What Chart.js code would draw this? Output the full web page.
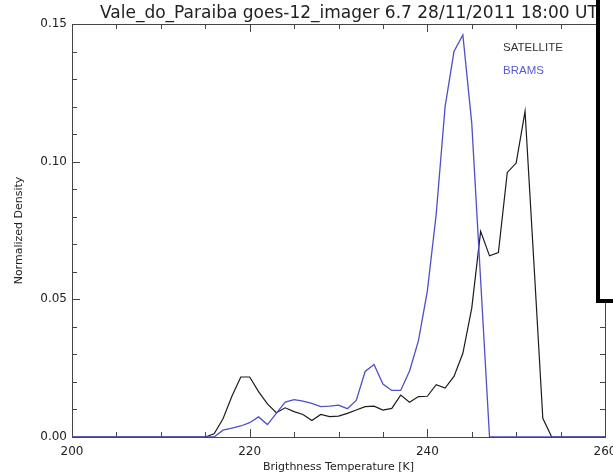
<!DOCTYPE html>
<html>
<head>
<meta charset="utf-8">
<script src="https://cdn.jsdelivr.net/npm/chart.js@4.4.1/dist/chart.umd.min.js"></script>
<style>
  html, body { margin: 0; padding: 0; background: #fff; }
  canvas { display: block; }
</style>
</head>
<body>
<canvas id="histo" width="613" height="476"></canvas>
<script>
'use strict';

// brightness temperature bins (K)
var temps = [200, 201, 202, 203, 204, 205, 206, 207, 208, 209,
             210, 211, 212, 213, 214, 215, 216, 217, 218, 219,
             220, 221, 222, 223, 224, 225, 226, 227, 228, 229,
             230, 231, 232, 233, 234, 235, 236, 237, 238, 239,
             240, 241, 242, 243, 244, 245, 246, 247, 248, 249,
             250, 251, 252, 253, 254, 255, 256, 257, 258, 259, 260];

// normalized density, GOES-12 6.7um
var satellite = [0, 0, 0, 0, 0, 0, 0, 0, 0, 0,
                 0, 0, 0, 0, 0, 0, 0.0012, 0.0066, 0.0148, 0.0218,
                 0.0218, 0.0165, 0.0120, 0.0088, 0.0106, 0.0092, 0.0082, 0.0060, 0.0082, 0.0074,
                 0.0076, 0.0086, 0.0098, 0.0110, 0.0112, 0.0098, 0.0104, 0.0152, 0.0126, 0.0147,
                 0.0148, 0.0190, 0.0178, 0.0220, 0.0304, 0.0468, 0.0747, 0.0658, 0.0670, 0.0961,
                 0.0995, 0.1183, 0.0630, 0.0068, 0, 0, 0, 0, 0, 0, 0];

// normalized density, BRAMS simulated
var brams = [0, 0, 0, 0, 0, 0, 0, 0, 0, 0,
             0, 0, 0, 0, 0, 0, 0, 0.0025, 0.0032, 0.0040,
             0.0052, 0.0073, 0.0045, 0.0086, 0.0127, 0.0136, 0.0130, 0.0122, 0.0110, 0.0112,
             0.0116, 0.0103, 0.0133, 0.0238, 0.0263, 0.0192, 0.0169, 0.0169, 0.0240, 0.0350,
             0.0530, 0.0810, 0.1200, 0.1400, 0.1460, 0.1140, 0.0570, 0, 0, 0,
             0, 0, 0, 0, 0, 0, 0, 0, 0, 0, 0];

var xTicks = [200, 220, 240, 260];
var yTicks = [0, 0.05, 0.10, 0.15];

var titulo = 'Vale_do_Paraiba goes-12_imager 6.7 28/11/2011 18:00 UTC';
var corSat = '#1c1c1c';
var corBrams = '#4f4fc6';

function pares(ys) {
  return temps.map(function(t, i) { return { x: t, y: ys[i] }; });
}

// IDL-like frame: box around the plot with inward ticks
var moldura = {
  id: 'moldura',
  beforeDatasetsDraw: function(chart) {
    var c = chart.ctx, a = chart.chartArea;
    var sx = chart.scales.x, sy = chart.scales.y;
    c.save();
    c.strokeStyle = '#454545';
    c.lineWidth = 1;
    c.strokeRect(a.left + 0.5, a.top + 0.5, a.right - a.left, a.bottom - a.top);
    c.beginPath();
    for (var t = 200; t <= 260; t += 5) {
      var px = Math.round(sx.getPixelForValue(t)) + 0.5;
      var len = (t % 20 === 0) ? 8 : 5;
      c.moveTo(px, a.bottom); c.lineTo(px, a.bottom - len);
      c.moveTo(px, a.top); c.lineTo(px, a.top + len);
    }
    for (var k = 0; k <= 15; k++) {
      var py = Math.round(sy.getPixelForValue(k / 100)) + 0.5;
      var l2 = (k % 5 === 0) ? 8 : 5;
      c.moveTo(a.left, py); c.lineTo(a.left + l2, py);
      c.moveTo(a.right, py); c.lineTo(a.right - l2, py);
    }
    c.stroke();
    c.restore();
  },
  afterDraw: function(chart) {
    var c = chart.ctx;
    c.save();
    // title
    c.fillStyle = '#222';
    c.font = '17px "DejaVu Sans"';
    c.textBaseline = 'alphabetic';
    c.textAlign = 'left';
    c.fillText(titulo, 100, 18);
    // legend labels
    c.font = '11.5px "Liberation Sans"';
    c.textBaseline = 'middle';
    c.fillStyle = '#333';
    c.fillText('SATELLITE', 503, 48);
    c.fillStyle = '#5a5ad2';
    c.fillText('BRAMS', 503, 71);
    // white panel with thick border on the right
    c.fillStyle = '#fff';
    c.fillRect(598, -5, 30, 306);
    c.strokeStyle = '#000';
    c.lineWidth = 4;
    c.strokeRect(598, -5, 30, 306);
    c.restore();
  }
};

new Chart(document.getElementById('histo').getContext('2d'), {
  type: 'line',
  data: {
    datasets: [
      { label: 'BRAMS', data: pares(brams), borderColor: corBrams, borderWidth: 1.3,
        pointRadius: 0, tension: 0, fill: false, order: 0 },
      { label: 'SATELLITE', data: pares(satellite), borderColor: corSat, borderWidth: 1.2,
        pointRadius: 0, tension: 0, fill: false, order: 1 }
    ]
  },
  options: {
    responsive: false,
    animation: false,
    layout: { padding: { top: 24, right: 8, left: 0, bottom: 0 } },
    plugins: { legend: { display: false }, tooltip: { enabled: false } },
    scales: {
      x: {
        type: 'linear', min: 200, max: 260,
        afterBuildTicks: function(s) { s.ticks = xTicks.map(function(v) { return { value: v }; }); },
        afterFit: function(s) { s.height = 39; s.paddingLeft = 0; s.paddingRight = 0; },
        grid: { display: false, drawTicks: false },
        border: { display: false },
        ticks: { padding: 8, color: '#222', maxRotation: 0, autoSkip: false,
                 font: { family: 'DejaVu Sans', size: 12 } },
        title: { display: true, text: 'Brigthness Temperature [K]', color: '#222',
                 font: { family: 'DejaVu Sans', size: 11 }, padding: { top: 0, bottom: 2 } }
      },
      y: {
        min: 0, max: 0.15,
        afterBuildTicks: function(s) { s.ticks = yTicks.map(function(v) { return { value: v }; }); },
        afterFit: function(s) { s.width = 72; s.paddingTop = 0; s.paddingBottom = 0; },
        grid: { display: false, drawTicks: false },
        border: { display: false },
        ticks: { padding: 5, color: '#222', autoSkip: false,
                 font: { family: 'DejaVu Sans', size: 12 },
                 callback: function(v) { return Number(v).toFixed(2); } },
        title: { display: true, text: 'Normalized Density', color: '#222',
                 font: { family: 'DejaVu Sans', size: 11 }, padding: { top: 13, bottom: 0 } }
      }
    }
  },
  plugins: [moldura]
});
</script>
</body>
</html>
